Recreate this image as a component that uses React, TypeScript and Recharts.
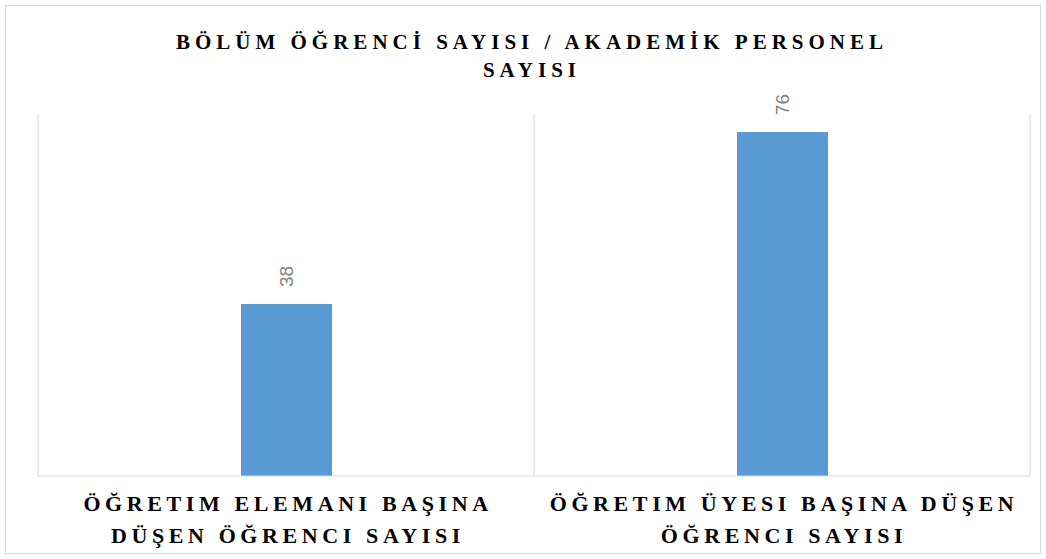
import React from 'react';
import { BarChart, Bar, XAxis, YAxis, CartesianGrid, LabelList } from 'recharts';

const categories = [
  'ÖĞRETIM ELEMANI BAŞINA DÜŞEN ÖĞRENCI SAYISI',
  'ÖĞRETIM ÜYESI BAŞINA DÜŞEN ÖĞRENCI SAYISI',
];
const categoryLines = [
  ['ÖĞRETIM ELEMANI BAŞINA', 'DÜŞEN ÖĞRENCI SAYISI'],
  ['ÖĞRETIM ÜYESI BAŞINA DÜŞEN', 'ÖĞRENCI SAYISI'],
];
const values = [38, 76];
const titleLines = ['BÖLÜM ÖĞRENCİ SAYISI / AKADEMİK PERSONEL', 'SAYISI'];

const data = categories.map((name, i) => ({ name, value: values[i] }));

const CategoryTick = (props: any) => {
  const { x, y, index } = props;
  const lines = categoryLines[index] || [];
  return (
    <g>
      {lines.map((line, i) => (
        <text
          key={i}
          x={x + 2}
          y={y + 27 + i * 32}
          textAnchor="middle"
          fontFamily="'Liberation Serif', serif"
          fontWeight="bold"
          fontSize={22}
          letterSpacing={4.6}
          fill="#000"
        >
          {line}
        </text>
      ))}
    </g>
  );
};

const ValueLabel = (props: any) => {
  const { x, y, width, value } = props;
  const cx = x + width / 2;
  const ty = y - 17;
  return (
    <text
      x={cx}
      y={ty}
      transform={`rotate(-90, ${cx}, ${ty})`}
      textAnchor="start"
      dominantBaseline="central"
      fontFamily="'Liberation Sans', sans-serif"
      fontSize={19}
      fill="#808080"
    >
      {value}
    </text>
  );
};

const App: React.FC = () => {
  return (
    <div style={{ position: 'relative', width: 1046, height: 559, background: '#fff' }}>
      <style>{`body{margin:0}`}</style>
      <div
        style={{
          position: 'absolute',
          left: 5,
          top: 5,
          right: 5,
          bottom: 5,
          border: '1px solid #d9d9d9',
        }}
      />
      <div
        style={{
          position: 'absolute',
          left: 0,
          top: 28,
          width: 1064,
          textAlign: 'center',
          fontFamily: "'Liberation Serif', serif",
          fontWeight: 'bold',
          fontSize: 21,
          letterSpacing: 5,
          lineHeight: '28px',
        }}
      >
        {titleLines.map((l, i) => (
          <div key={i}>{l}</div>
        ))}
      </div>
      <div style={{ position: 'absolute', left: 0, top: 0 }}>
        <BarChart
          width={1046}
          height={559}
          data={data}
          margin={{ top: 114, right: 16, left: 38, bottom: 8 }}
          barCategoryGap={0}
        >
          <CartesianGrid
            horizontal={false}
            stroke="#d9d9d9"
            verticalCoordinatesGenerator={({ offset }: any) =>
              Array.from({ length: categories.length + 1 }, (_, i) =>
                offset.left + (offset.width * i) / categories.length
              )
            }
          />
          <XAxis
            dataKey="name"
            height={75}
            tick={<CategoryTick />}
            tickLine={false}
            axisLine={{ stroke: '#d9d9d9' }}
            interval={0}
          />
          <YAxis hide domain={[0, 80]} />
          <Bar dataKey="value" fill="#5b9bd5" barSize={91} isAnimationActive={false}>
            <LabelList dataKey="value" content={<ValueLabel />} />
          </Bar>
        </BarChart>
      </div>
    </div>
  );
};

export default App;
